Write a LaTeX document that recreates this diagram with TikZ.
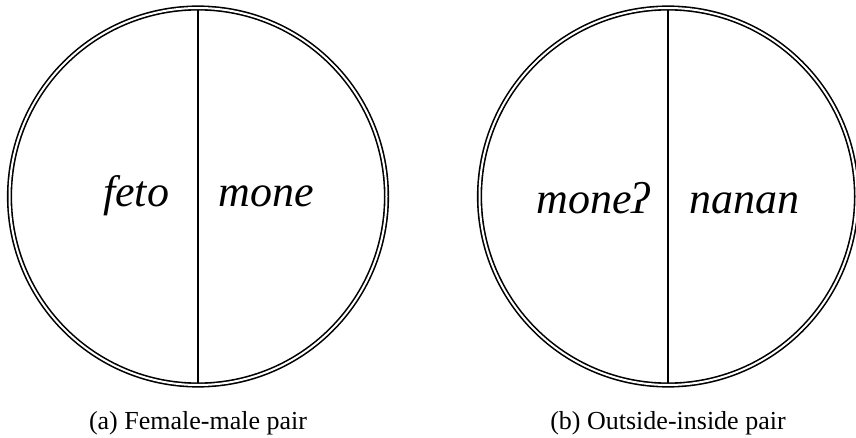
\documentclass[tikz,border=0pt]{standalone}
\usepackage{fontspec}
\setmainfont{Liberation Serif}
\begin{document}
\begin{tikzpicture}[x=1pt,y=1pt,
  ring/.style={circle, draw, double, line width=1.6pt, double distance=2pt, minimum size=377pt, inner sep=0pt, outer sep=0pt},
  divider/.style={line width=1.5pt, shorten <=1.6pt, shorten >=1.6pt},
  word/.style={anchor=base, inner sep=0pt, font=\fontsize{44}{50}\selectfont\itshape},
  captext/.style={anchor=base, inner sep=0pt, font=\fontsize{26}{31}\selectfont}]
\useasboundingbox (0,0) rectangle (856,437);
\node[ring] (L) at (198,240.5) {};
\node[ring] (R) at (668,240.5) {};
\draw[divider] (L.north) -- (L.south);
\draw[divider] (R.north) -- (R.south);
\node[word] (l1) at (136,230) {feto};
\node[word] (l2) at (266,230) {mone};
\node[word] (r1) at (593,224) {moneʔ};
\node[word] (r2) at (744,224) {nanan};
\node[captext] (ca) at (198,8) {(a) Female-male pair};
\node[captext] (cb) at (668,8) {(b) Outside-inside pair};
\end{tikzpicture}
\end{document}
